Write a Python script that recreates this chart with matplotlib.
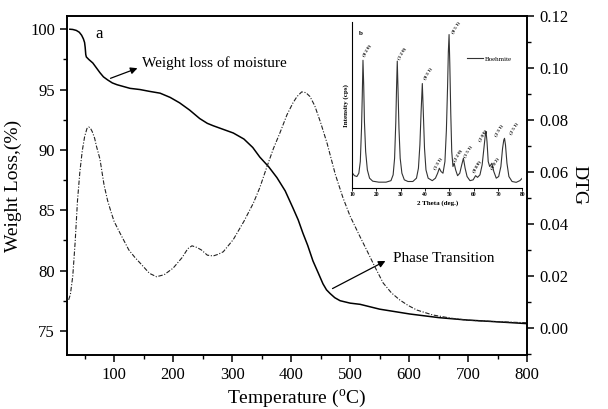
import matplotlib
matplotlib.use('Agg')
import matplotlib.pyplot as plt
from matplotlib.ticker import MultipleLocator

plt.rcParams['font.family'] = ['Liberation Serif', 'DejaVu Serif']
plt.rcParams['mathtext.fontset'] = 'stix'

# TG curve (weight loss %)
tg_temp = [25, 30, 36, 41, 45, 48, 50, 51, 52, 53, 57, 64, 70, 76, 82, 89, 97, 105, 116, 127,
           144, 160, 178, 195, 211, 228, 245, 258, 268, 285, 302, 320, 335, 347, 362, 376,
           390, 403, 412, 420, 428, 437, 446, 454, 460, 466, 474, 483, 500, 517, 550, 601,
           650, 698, 750, 800]
tg_weight = [100.0, 99.98, 99.9, 99.75, 99.5, 99.2, 98.9, 98.5, 97.9, 97.7, 97.5, 97.2, 96.8,
             96.4, 96.05, 95.8, 95.55, 95.4, 95.25, 95.1, 95.0, 94.85, 94.7, 94.35, 93.9,
             93.3, 92.6, 92.2, 92.0, 91.7, 91.4, 90.9, 90.2, 89.4, 88.6, 87.7, 86.6, 85.2,
             84.2, 83.1, 82.1, 80.8, 79.8, 78.9, 78.4, 78.1, 77.75, 77.5, 77.3, 77.2, 76.8,
             76.4, 76.1, 75.9, 75.75, 75.6]

# DTG curve
dtg_temp = [23, 26, 30, 34, 38, 42, 46, 50, 54, 57, 60, 63, 67, 70, 76, 83, 89, 95, 100, 110,
            125, 135, 144, 160, 172, 185, 200, 215, 225, 232, 240, 248, 258, 268, 276, 285,
            302, 320, 336, 347, 359, 370, 381, 393, 403, 410, 418, 425, 432, 440, 450, 461,
            475, 488, 500, 517, 528, 542, 556, 570, 584, 598, 613, 640, 670, 698, 750, 800]
dtg_val = [0.0108, 0.013, 0.020, 0.033, 0.049, 0.060, 0.068, 0.0735, 0.0767, 0.0773, 0.0768,
           0.0755, 0.073, 0.070, 0.065, 0.055, 0.049, 0.0445, 0.041, 0.0365, 0.030, 0.0272,
           0.025, 0.021, 0.0197, 0.0205, 0.023, 0.027, 0.0305, 0.0316, 0.031, 0.0300, 0.028,
           0.0277, 0.0283, 0.0293, 0.034, 0.041, 0.048, 0.054, 0.062, 0.069, 0.075, 0.082,
           0.0865, 0.0890, 0.0908, 0.0905, 0.0890, 0.0855, 0.079, 0.071, 0.059, 0.050, 0.043,
           0.035, 0.030, 0.0235, 0.0173, 0.0135, 0.0108, 0.0087, 0.0069, 0.005, 0.0038,
           0.003, 0.0024, 0.002]

# XRD inset (2 theta, relative intensity)
xrd_theta = [10.2, 11, 12, 12.8, 13.4, 13.9, 14.2, 14.5, 14.8, 15.1, 15.6, 16.3, 17.2, 18.5,
             21, 24, 26, 26.9, 27.5, 28.0, 28.3, 28.6, 28.9, 29.3, 29.8, 30.5, 31.5, 33, 35,
             36.5, 37.3, 37.9, 38.4, 38.9, 39.3, 39.8, 40.4, 41.3, 43, 44.3, 45.2, 45.9, 46.6,
             47.4, 48.2, 48.8, 49.3, 49.6, 49.9, 50.2, 50.6, 51.0, 51.5, 52.0, 52.6, 53.4,
             54.3, 55.1, 55.8, 56.5, 57.3, 58.5, 59.8, 60.8, 61.6, 62.6, 63.5, 64.3, 64.8,
             65.1, 65.5, 66.0, 66.6, 67.5, 68.3, 69.3, 70.3, 71.2, 71.9, 72.4, 72.7, 73.1,
             73.7, 74.5, 75.8, 77.5, 79, 80]
xrd_int = [0.09, 0.075, 0.07, 0.09, 0.16, 0.36, 0.55, 0.77, 0.62, 0.40, 0.22, 0.11, 0.06,
           0.042, 0.036, 0.036, 0.045, 0.08, 0.18, 0.40, 0.60, 0.765, 0.60, 0.36, 0.18, 0.09,
           0.05, 0.04, 0.04, 0.06, 0.12, 0.26, 0.46, 0.63, 0.46, 0.24, 0.11, 0.06, 0.045,
           0.06, 0.09, 0.12, 0.10, 0.09, 0.16, 0.35, 0.62, 0.82, 0.925, 0.75, 0.45, 0.22,
           0.13, 0.15, 0.11, 0.075, 0.09, 0.14, 0.18, 0.12, 0.07, 0.045, 0.05, 0.075, 0.065,
           0.08, 0.14, 0.25, 0.32, 0.34, 0.28, 0.16, 0.13, 0.15, 0.10, 0.06, 0.07, 0.13,
           0.24, 0.29, 0.30, 0.26, 0.15, 0.07, 0.04, 0.035, 0.045, 0.06]

peak_labels = ['(0 2 0)', '(1 2 0)', '(0 3 1)', '(1 3 1)', '(0 5 1)', '(2 2 0)', '(1 5 1)',
               '(0 8 0)', '(2 0 0)', '(0 0 2)', '(2 3 1)', '(2 5 1)']
label_theta = [16.2, 30.6, 40.9, 45.4, 52.4, 53.6, 57.7, 61.4, 63.9, 68.8, 70.1, 76.3]
label_int = [0.83, 0.81, 0.69, 0.15, 0.97, 0.20, 0.22, 0.13, 0.32, 0.15, 0.35, 0.36]

fig = plt.figure(figsize=(6.08, 4.09), dpi=100)
ax = fig.add_axes([0.110, 0.132, 0.757, 0.829])
ax2 = ax.twinx()

ax.plot(tg_temp, tg_weight, color='black', lw=1.1)
ax2.plot(dtg_temp, dtg_val, color='#222222', lw=0.8, dashes=(4, 1.5, 1, 1.5))

ax.set_xlim(20, 800)
ax.set_ylim(73.0, 101.1)
ax2.set_ylim(-0.0104, 0.12)

ax.xaxis.set_major_locator(MultipleLocator(100))
ax.xaxis.set_minor_locator(MultipleLocator(50))
ax.yaxis.set_major_locator(MultipleLocator(5))
ax.yaxis.set_minor_locator(MultipleLocator(2.5))
ax2.yaxis.set_minor_locator(MultipleLocator(0.01))
ax2.set_yticks([0.0, 0.02, 0.04, 0.06, 0.08, 0.10, 0.12])
ax2.set_yticklabels(['0.00', '0.02', '0.04', '0.06', '0.08', '0.10', '0.12'])

for a in (ax, ax2):
    a.tick_params(which='major', direction='out', length=5, width=1.1, labelsize=12)
    a.tick_params(which='minor', direction='out', length=3, width=1.0)
    for s in a.spines.values():
        s.set_linewidth(1.2)

ax.set_xticks([100, 200, 300, 400, 500, 600, 700, 800])
ax.set_xlabel('Temperature ($\\mathregular{^{o}}$C)', fontsize=14, labelpad=4)
ax.set_ylabel('Weight Loss,(%)', fontsize=14, labelpad=6)
ax2.set_ylabel('DTG', fontsize=14, rotation=-90, labelpad=14)

ax.text(69, 99.6, 'a', fontsize=12, va='center')
ax.annotate('', xy=(144, 96.85), xytext=(89.5, 95.85),
            arrowprops=dict(arrowstyle='-|>', color='black', lw=0.9, mutation_scale=10))
ax.text(148, 97.2, 'Weight loss of moisture', fontsize=11, va='center')
ax.annotate('', xy=(564, 80.9), xytext=(466, 78.4),
            arrowprops=dict(arrowstyle='-|>', color='black', lw=0.9, mutation_scale=10))
ax.text(572, 81.0, 'Phase Transition', fontsize=11, va='center')

# inset XRD
ins = fig.add_axes([0.579, 0.540, 0.280, 0.406])
ins.plot(xrd_theta, xrd_int, color='#333333', lw=0.8, label='Boehmite')
ins.set_xlim(10, 80)
ins.set_ylim(0, 1)
ins.set_xticks([10, 20, 30, 40, 50, 60, 70, 80])
ins.set_yticks([])
ins.spines['top'].set_visible(False)
ins.spines['right'].set_visible(False)
ins.tick_params(axis='x', direction='out', length=2, width=0.6, labelsize=4, pad=1)
for lab in ins.get_xticklabels():
    lab.set_fontweight('bold')
ins.set_xlabel('2 Theta (deg.)', fontsize=5, fontweight='bold', labelpad=2)
ins.set_ylabel('Intensity (cps)', fontsize=5, fontweight='bold', labelpad=2)
ins.text(13, 0.93, 'b', fontsize=5, fontweight='bold', va='center')
for lab, tx, ty in zip(peak_labels, label_theta, label_int):
    ins.text(tx, ty, lab, fontsize=3.5, fontweight='bold', rotation=60,
             ha='center', va='center')
ins.legend(loc='center left', bbox_to_anchor=(0.64, 0.78), frameon=False, fontsize=5,
           handlelength=2.2, handletextpad=0.3)

fig.savefig('out.png', dpi=100)
